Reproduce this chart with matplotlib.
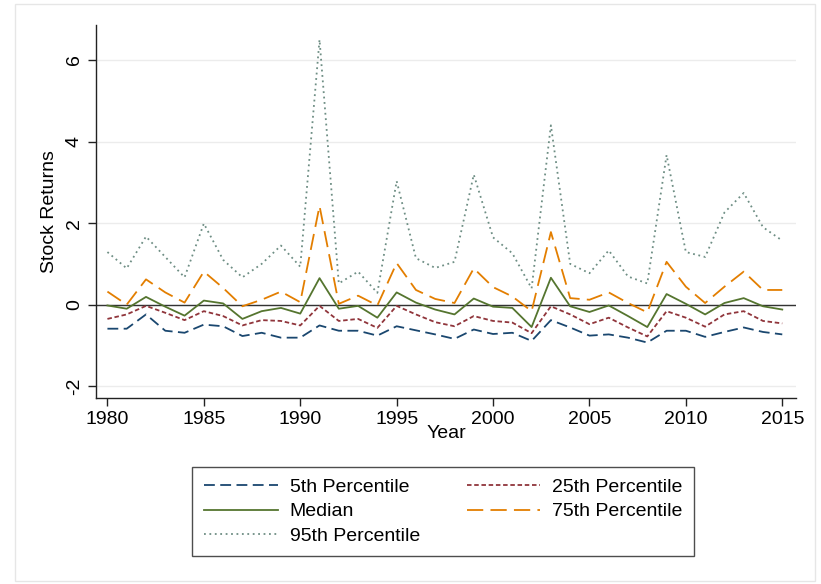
"""
Stock return percentiles by year, 1980-2015
"""
import matplotlib
matplotlib.use('Agg')
import matplotlib.pyplot as plt
from matplotlib.patches import Rectangle

plt.rcParams['font.family'] = ['Liberation Sans', 'DejaVu Sans']
plt.rcParams['axes.unicode_minus'] = False

years = list(range(1980, 2016))

p5 = [-0.59, -0.59, -0.24, -0.64, -0.69, -0.49, -0.53, -0.77, -0.69, -0.81,
      -0.81, -0.51, -0.64, -0.64, -0.76, -0.53, -0.63, -0.73, -0.84, -0.61,
      -0.72, -0.69, -0.89, -0.38, -0.56, -0.76, -0.73, -0.81, -0.93, -0.64,
      -0.64, -0.79, -0.67, -0.56, -0.67, -0.73]
p25 = [-0.35, -0.24, -0.03, -0.20, -0.38, -0.16, -0.28, -0.51, -0.38, -0.40,
       -0.51, -0.03, -0.40, -0.35, -0.57, -0.03, -0.24, -0.43, -0.53, -0.28,
       -0.40, -0.44, -0.70, -0.04, -0.24, -0.48, -0.32, -0.56, -0.78, -0.16,
       -0.32, -0.54, -0.24, -0.16, -0.40, -0.46]
median = [-0.02, -0.10, 0.19, -0.05, -0.27, 0.10, 0.03, -0.35, -0.16, -0.08,
          -0.22, 0.65, -0.10, -0.03, -0.32, 0.30, 0.05, -0.12, -0.24, 0.15,
          -0.05, -0.08, -0.55, 0.66, -0.04, -0.18, -0.02, -0.28, -0.55, 0.26,
          0.02, -0.24, 0.04, 0.16, -0.04, -0.12]
p75 = [0.32, 0.00, 0.62, 0.30, 0.05, 0.81, 0.41, -0.04, 0.12, 0.32,
       0.06, 2.42, 0.02, 0.22, -0.02, 1.02, 0.36, 0.14, 0.04, 0.89,
       0.43, 0.20, -0.16, 1.78, 0.16, 0.12, 0.30, 0.04, -0.19, 1.05,
       0.44, 0.04, 0.44, 0.81, 0.36, 0.36]
p95 = [1.29, 0.89, 1.67, 1.17, 0.67, 1.99, 1.10, 0.67, 1.00, 1.45,
       0.93, 6.50, 0.52, 0.81, 0.29, 3.03, 1.14, 0.90, 1.05, 3.19,
       1.65, 1.26, 0.40, 4.40, 1.00, 0.77, 1.33, 0.69, 0.52, 3.67,
       1.29, 1.17, 2.26, 2.74, 1.90, 1.57]

fig = plt.figure(figsize=(8.21, 5.84), dpi=100)
ax = fig.add_axes([0.117, 0.3185, 0.8525, 0.6387])

# faint outer frame like the Stata graph region
fig.patches.append(Rectangle((15 / 821, 1 - 581 / 584), 800 / 821, 577 / 584,
                             transform=fig.transFigure, fill=False,
                             edgecolor='#e6e6e6', linewidth=1.0))

lw = 1.3
l5, = ax.plot(years, p5, color='#1a476f', lw=lw, linestyle=(0, (6, 3)), label='5th Percentile')
l25, = ax.plot(years, p25, color='#90353b', lw=lw, linestyle=(0, (2.5, 1.5)), label='25th Percentile')
lmed, = ax.plot(years, median, color='#55752f', lw=lw, linestyle='-', label='Median')
l75, = ax.plot(years, p75, color='#e37e00', lw=lw, linestyle=(0, (9, 4)), label='75th Percentile')
l95, = ax.plot(years, p95, color='#6e8e84', lw=lw, linestyle=(0, (1, 2)), label='95th Percentile')

ax.axhline(0, color='#333333', lw=1.0, zorder=1)

ax.set_xlim(1979.41, 2015.71)
ax.set_ylim(-2.29, 6.86)
ax.set_xticks([1980, 1985, 1990, 1995, 2000, 2005, 2010, 2015])
ax.set_yticks([-2, 0, 2, 4, 6])
ax.grid(axis='y', color='#ececec', lw=1.0, zorder=0)
ax.set_axisbelow(True)

for s in ['top', 'right']:
    ax.spines[s].set_visible(False)
for s in ['left', 'bottom']:
    ax.spines[s].set_color('#222222')
    ax.spines[s].set_linewidth(1.0)

ax.tick_params(axis='both', labelsize=14, length=6, width=1.0, color='#222222')
ax.tick_params(axis='y', labelrotation=90)
for lbl in ax.get_yticklabels():
    lbl.set_va('center')

ax.set_xlabel('Year', fontsize=14, labelpad=-2)
ax.set_ylabel('Stock Returns', fontsize=14, labelpad=6)

handles = [l5, lmed, l95, l25, l75]
leg = fig.legend(handles=handles, labels=[h.get_label() for h in handles],
                 ncol=2, loc='center', bbox_to_anchor=(0.540, 0.124),
                 bbox_transform=fig.transFigure, fontsize=14, frameon=True,
                 fancybox=False, edgecolor='#222222', handlelength=3.8,
                 columnspacing=2.4, labelspacing=0.35, borderpad=0.6,
                 handletextpad=0.6)
leg.get_frame().set_linewidth(1.0)

plt.savefig('out.png', dpi=100)
plt.close()
